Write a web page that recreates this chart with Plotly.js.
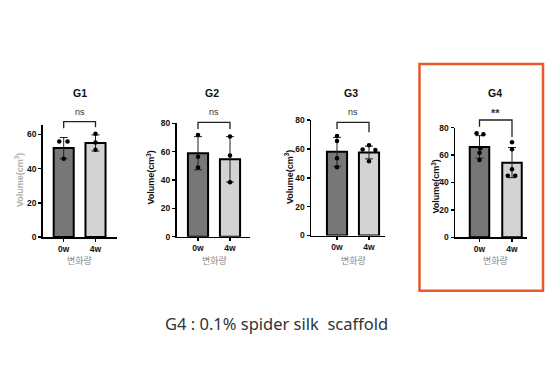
<!DOCTYPE html>
<html>
<head>
<meta charset="utf-8">
<script src="https://cdn.plot.ly/plotly-3.0.1.min.js"></script>
<style>html,body{margin:0;padding:0;background:#fff;}#chart{width:550px;height:380px;}</style>
</head>
<body>
<div id="chart"></div>
<script>
// ---------- data ----------
const categories = ['0w', '4w'];
const groupNames = ['G1', 'G2', 'G3', 'G4'];
const significance = ['ns', 'ns', 'ns', '**'];

const meanG1 = [52.0, 55.0];
const sdG1 = [6.2, 4.7];
const pts0wG1 = [55.9, 55.9, 45.7];
const pts4wG1 = [60.4, 55.3, 51.0];

const meanG2 = [58.9, 54.6];
const sdG2 = [11.7, 16.0];
const pts0wG2 = [71.8, 56.4, 48.9];
const pts4wG2 = [70.6, 57.2, 38.4];

const meanG3 = [58.0, 57.5];
const sdG3 = [10.0, 4.4];
const pts0wG3 = [68.9, 65.4, 53.5, 47.2];
const pts4wG3 = [62.5, 59.5, 59.3, 51.5];

const meanG4 = [66.0, 54.5];
const sdG4 = [8.2, 11.0];
const pts0wG4 = [75.9, 75.2, 65.0, 61.8, 56.4];
const pts4wG4 = [69.3, 64.2, 49.6, 45.0, 45.0];

const yTickStep = 20;
const xAxisLabel = '변화량';
const yAxisLabel = 'Volume(cm<sup>3</sup>)';
const caption = 'G4 : 0.1% spider silk&nbsp; scaffold';

// ---------- layout geometry (pixels) ----------
const W = 550, H = 380;
const panels = [
  {mean: meanG1, sd: sdG1, p0: pts0wG1, p1: pts4wG1, j0: [-0.14, 0.12, 0], j1: [0, 0, 0],
   axL: 42.7, axR: 117, c0: 63.7, c1: 95.5, yBot: 237, yTop: 125, yTopVal: 65.5, barW: 0.63,
   titleX: 80, volX: 19, volY: 180, volColor: '#b0b0b0', brTop: 121.7, brL: 128.3, brR: 127.3, sigY: 112},
  {mean: meanG2, sd: sdG2, p0: pts0wG2, p1: pts4wG2, j0: [0, 0, 0], j1: [0, 0, 0],
   axL: 176.5, axR: 250, c0: 198, c1: 230, yBot: 236.7, yTop: 123.3, yTopVal: 80, barW: 0.63,
   titleX: 212, volX: 151, volY: 177.5, volColor: '#111', brTop: 122.3, brL: 129, brR: 129, sigY: 112.3},
  {mean: meanG3, sd: sdG3, p0: pts0wG3, p1: pts4wG3, j0: [0, 0, 0, 0], j1: [0, -0.2, 0.2, 0],
   axL: 311, axR: 385, c0: 337, c1: 369, yBot: 235.5, yTop: 120, yTopVal: 80, barW: 0.63,
   titleX: 351, volX: 289, volY: 177, volColor: '#111', brTop: 122.3, brL: 129, brR: 132.3, sigY: 112},
  {mean: meanG4, sd: sdG4, p0: pts0wG4, p1: pts4wG4, j0: [-0.09, 0.12, 0.03, 0, 0], j1: [0, 0, 0, -0.13, 0.1],
   axL: 455, axR: 527, c0: 479.5, c1: 512, yBot: 237.3, yTop: 127.7, yTopVal: 80, barW: 0.6,
   titleX: 495, volX: 435.5, volY: 187, volColor: '#111', brTop: 120, brL: 126.7, brR: 137, sigY: 113.3}
];
const px = x => x / W;
const py = y => 1 - y / H;

const barColors = ['#777777', '#d3d3d3'];
const tickFont = {family: 'Liberation Sans, Arial, sans-serif', size: 8.5, color: '#111', weight: 'bold'};

const traces = [];
const layout = {
  width: W, height: H, margin: {l: 0, r: 0, t: 0, b: 0},
  paper_bgcolor: '#fff', plot_bgcolor: 'rgba(0,0,0,0)',
  showlegend: false, annotations: [], shapes: []
};

panels.forEach((p, i) => {
  const n = i + 1;
  const xa = 'x' + (n === 1 ? '' : n), ya = 'y' + (n === 1 ? '' : n);
  const spacing = p.c1 - p.c0;
  traces.push({
    type: 'bar', x: [0, 1], y: p.mean, xaxis: xa, yaxis: ya, width: p.barW,
    marker: {color: barColors, line: {color: '#000', width: 2}},
    error_y: {type: 'data', array: p.sd, visible: true, color: '#222', thickness: 1, width: 4},
    hoverinfo: 'skip'
  });
  const xs = p.j0.map(j => 0 + j).concat(p.j1.map(j => 1 + j));
  traces.push({
    type: 'scatter', mode: 'markers', x: xs, y: p.p0.concat(p.p1), xaxis: xa, yaxis: ya,
    marker: {color: '#000', size: 4.5}, cliponaxis: false, hoverinfo: 'skip'
  });
  layout['xaxis' + (n === 1 ? '' : n)] = {
    domain: [px(p.axL), px(p.axR)], anchor: ya,
    range: [(p.axL - p.c0) / spacing, (p.axR - p.c0) / spacing],
    tickvals: [0, 1], ticktext: categories, ticks: 'outside', ticklen: 3, tickwidth: 1.5, tickcolor: '#000',
    showline: true, linecolor: '#000', linewidth: 1.5, showgrid: false, zeroline: false,
    tickfont: tickFont, fixedrange: true
  };
  layout['yaxis' + (n === 1 ? '' : n)] = {
    domain: [py(p.yBot), py(p.yTop)], anchor: xa,
    range: [0, p.yTopVal], dtick: yTickStep, tick0: 0, ticks: 'outside', ticklen: 3, tickwidth: 1.5, tickcolor: '#000',
    showline: true, linecolor: '#000', linewidth: 1.5, showgrid: false, zeroline: false,
    tickfont: tickFont, fixedrange: true
  };
  layout.annotations.push({xref: 'paper', yref: 'paper', x: px(p.titleX), y: py(93), text: '<b>' + groupNames[i] + '</b>',
    showarrow: false, xanchor: 'center', yanchor: 'middle',
    font: {family: 'Liberation Sans, Arial, sans-serif', size: 10.5, color: '#111'}});
  layout.annotations.push({xref: 'paper', yref: 'paper', x: px(p.volX), y: py(p.volY), text: '<b>' + yAxisLabel + '</b>',
    showarrow: false, textangle: -90, xanchor: 'center', yanchor: 'middle',
    font: {family: 'Liberation Sans, Arial, sans-serif', size: 9, color: p.volColor}});
  layout.annotations.push({xref: 'paper', yref: 'paper', x: px((p.c0 + p.c1) / 2), y: py(260.5), text: xAxisLabel,
    showarrow: false, xanchor: 'center', yanchor: 'middle',
    font: {family: 'Noto Sans CJK KR, sans-serif', size: 9, color: '#8a8a8a'}});
  layout.annotations.push({xref: 'paper', yref: 'paper', x: px((p.c0 + p.c1) / 2), y: py(p.sigY), text: significance[i],
    showarrow: false, xanchor: 'center', yanchor: 'middle',
    font: {family: 'Liberation Sans, Arial, sans-serif', size: significance[i] === '**' ? 11 : 9, color: '#333',
      weight: significance[i] === '**' ? 'bold' : 'normal'}});
  layout.shapes.push({type: 'path', xref: 'paper', yref: 'paper',
    path: `M ${px(p.c0)} ${py(p.brL)} L ${px(p.c0)} ${py(p.brTop)} L ${px(p.c1)} ${py(p.brTop)} L ${px(p.c1)} ${py(p.brR)}`,
    line: {color: '#222', width: 1.3}});
});

layout.shapes.push({type: 'rect', xref: 'paper', yref: 'paper', x0: px(419.5), x1: px(543), y0: py(64), y1: py(290.7),
  line: {color: '#e8592b', width: 2.5}, fillcolor: 'rgba(0,0,0,0)'});
layout.annotations.push({xref: 'paper', yref: 'paper', x: px(276), y: py(323.5), text: caption, showarrow: false,
  xanchor: 'center', yanchor: 'middle', font: {family: 'Noto Sans, sans-serif', size: 16.5, color: '#333'}});

Plotly.newPlot('chart', traces, layout, {staticPlot: true, displayModeBar: false});
</script>
</body>
</html>
